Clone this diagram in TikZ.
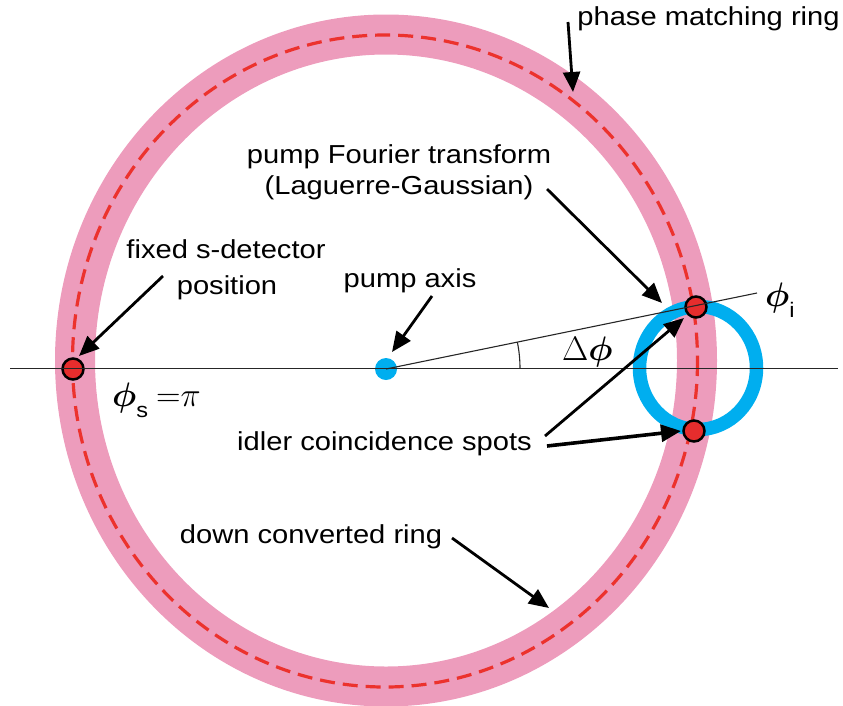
\RequirePackage{fix-cm}
\documentclass[tikz,border=0pt]{standalone}
\usepackage{fontspec}
\setmainfont{Liberation Sans}[FakeStretch=1.12]
\usetikzlibrary{arrows.meta}
\definecolor{ringpink}{RGB}{237,156,188}
\definecolor{dashred}{RGB}{236,50,45}
\definecolor{dotred}{RGB}{230,45,45}
\definecolor{pumpblue}{RGB}{0,174,239}
\newcommand{\bphi}{\mbox{\boldmath$\phi$}}
\tikzset{
  lbl/.style={font=\fontsize{26}{31}\selectfont, inner sep=0pt},
  mlbl/.style={font=\fontsize{34}{34}\selectfont, inner sep=0pt},
  callout/.style={line width=2.8pt, -{Triangle[length=20pt,width=17pt]}},
  spot/.style={circle, draw=black, line width=2.5pt, fill=dotred, minimum size=21pt, inner sep=0pt},
  axisline/.style={line width=1.1pt, black!85}
}
\begin{document}
\begin{tikzpicture}[x=1pt,y=-1pt]
\useasboundingbox (0,0) rectangle (843,705);
% rings
\draw[ringpink, line width=40pt] (386,360.5) ellipse [x radius=311, y radius=326];
\draw[dashred, line width=3.2pt, dash pattern=on 15pt off 8pt] (385,361) ellipse [x radius=312.5, y radius=326];
\draw[pumpblue, line width=13.5pt] (698,368) ellipse [x radius=58.5, y radius=61.5];
% dots
\node[circle, fill=pumpblue, minimum size=22pt, inner sep=0pt] (pump) at (386,369) {};
\node[spot] (sdet) at (73,369) {};
\node[spot] (itop) at (696,307) {};
\node[spot] (ibot) at (694,431) {};
% axis lines
\coordinate (axL) at (10,368.5);
\coordinate (axR) at (838,368.5);
\coordinate (phiEnd) at (757,293);
\draw[axisline] (axL) -- (axR);
\draw[axisline] (pump.center) -- (phiEnd);
\coordinate (arcS) at (520,368.5);
\draw[axisline] (arcS) arc[start angle=0, end angle=-11.31, radius=134];
% labels
\node[lbl, anchor=base] (tPhase) at (708.5,25) {phase matching ring};
\node[lbl, anchor=base] (pft1) at (399,163) {pump Fourier transform};
\node[lbl, anchor=base] (pft2) at (399,194) {(Laguerre-Gaussian)};
\node[lbl, anchor=base] (fsd1) at (226,258) {fixed s-detector};
\node[lbl, anchor=base] (fsd2) at (227,294) {position};
\node[lbl, anchor=base] (pax) at (410,287) {pump axis};
\node[lbl, anchor=base] (ics) at (384.5,450) {idler coincidence spots};
\node[lbl, anchor=base] (dcr) at (311,543) {down converted ring};
\node[mlbl, anchor=base west] (dphi) at (562,360) {$\Delta$\bphi};
\node[mlbl, anchor=base west] (phii) at (765,306) {\bphi\raisebox{-11pt}{\fontsize{21}{21}\selectfont i}};
\node[mlbl, anchor=base west] (phis) at (112,406) {\bphi\raisebox{-11pt}{\fontsize{21}{21}\selectfont s}\hspace{8pt}${=}\pi$};
% callout arrows
\coordinate (pmS) at (568,22);   \coordinate (pmT) at (573,92);
\coordinate (pfS) at (547,189);  \coordinate (pfT) at (662,303);
\coordinate (fsS) at (163,276);  \coordinate (fsT) at (79,356);
\coordinate (paS) at (432,296);  \coordinate (paT) at (392,352);
\coordinate (icS1) at (545,436); \coordinate (icT1) at (684,318);
\coordinate (icS2) at (547,446); \coordinate (icT2) at (681,431);
\coordinate (dcS) at (452,538);  \coordinate (dcT) at (549,608);
\draw[callout] (pmS) -- (pmT);
\draw[callout] (pfS) -- (pfT);
\draw[callout] (fsS) -- (fsT);
\draw[callout] (paS) -- (paT);
\draw[callout] (icS1) -- (icT1);
\draw[callout, line width=3.6pt] (icS2) -- (icT2);
\draw[callout] (dcS) -- (dcT);
\end{tikzpicture}
\end{document}
